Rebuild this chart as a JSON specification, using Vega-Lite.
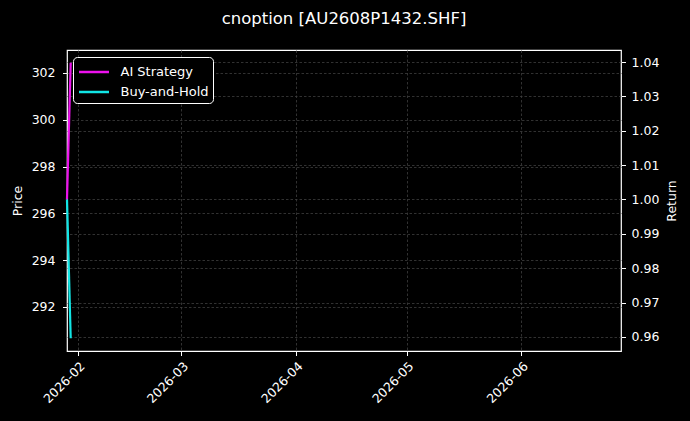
{
  "$schema": "https://vega.github.io/schema/vega-lite/v6.json",
  "autosize": "none",
  "width": 554,
  "height": 301,
  "padding": {"left": 67, "top": 50, "right": 69, "bottom": 70},
  "background": "#000000",
  "title": {
    "text": "cnoption [AU2608P1432.SHF]",
    "color": "#ffffff",
    "font": "DejaVu Sans",
    "fontSize": 16.5,
    "fontWeight": "normal",
    "anchor": "middle",
    "offset": 23
  },
  "config": {
    "view": {"stroke": "#ffffff", "strokeWidth": 1.2},
    "font": "DejaVu Sans",
    "axis": {
      "domain": false,
      "labelColor": "#ffffff",
      "titleColor": "#ffffff",
      "tickColor": "#ffffff",
      "labelFont": "DejaVu Sans",
      "titleFont": "DejaVu Sans",
      "labelFontSize": 12.5,
      "titleFontSize": 12.5,
      "titleFontWeight": "normal",
      "tickSize": 4.5,
      "labelPadding": 4,
      "gridColor": "#3e3e3e",
      "gridDash": [2.5, 2],
      "gridWidth": 0.8
    }
  },
  "datasets": {
    "price": [
      {"date": "2026-01-29T00:00:00", "price": 302.6},
      {"date": "2026-01-30T00:00:00", "price": 290.5}
    ],
    "returns": [
      {"date": "2026-01-29T00:00:00", "series": "AI Strategy", "value": 1.0},
      {"date": "2026-01-30T00:00:00", "series": "AI Strategy", "value": 1.0398},
      {"date": "2026-01-29T00:00:00", "series": "Buy-and-Hold", "value": 1.0},
      {"date": "2026-01-30T00:00:00", "series": "Buy-and-Hold", "value": 0.9596}
    ]
  },
  "encoding": {
    "x": {
      "field": "date",
      "type": "temporal",
      "scale": {
        "domain": [
          {"year": 2026, "month": 1, "date": 29},
          {"year": 2026, "month": 6, "date": 28}
        ]
      },
      "axis": {
        "title": null,
        "format": "%Y-%m",
        "tickCount": {"interval": "month", "step": 1},
        "labelAngle": -45,
        "labelAlign": "right",
        "labelBaseline": "top",
        "grid": true
      }
    }
  },
  "layer": [
    {
      "data": {"name": "price"},
      "mark": {"type": "line", "strokeWidth": 2, "opacity": 0},
      "encoding": {
        "y": {
          "field": "price",
          "type": "quantitative",
          "scale": {"domain": [290.12, 302.98], "nice": false, "zero": false},
          "axis": {
            "orient": "left",
            "title": "Price",
            "values": [292, 294, 296, 298, 300, 302],
            "labelPadding": 7.5,
            "titlePadding": 7,
            "grid": true
          }
        }
      }
    },
    {
      "data": {"name": "returns"},
      "mark": {"type": "line", "strokeWidth": 2.2},
      "encoding": {
        "y": {
          "field": "value",
          "type": "quantitative",
          "scale": {"domain": [0.9559, 1.0435], "nice": false, "zero": false},
          "axis": {
            "orient": "right",
            "title": "Return",
            "titleAngle": 270,
            "titleBaseline": "top",
            "format": ".2f",
            "values": [0.96, 0.97, 0.98, 0.99, 1.0, 1.01, 1.02, 1.03, 1.04],
            "labelPadding": 5.5,
            "titlePadding": 7,
            "grid": true
          }
        },
        "color": {
          "field": "series",
          "type": "nominal",
          "scale": {
            "domain": ["AI Strategy", "Buy-and-Hold"],
            "range": ["#ee11ee", "#11e6e6"]
          },
          "legend": {
            "title": null,
            "orient": "none",
            "legendX": 6,
            "legendY": 7,
            "symbolType": "M-0.9,0H2.1",
            "symbolSize": 400,
            "symbolStrokeWidth": 2.5,
            "labelColor": "#ffffff",
            "labelFont": "DejaVu Sans",
            "labelFontSize": 13,
            "labelOffset": 21,
            "rowPadding": 1,
            "padding": 3.5,
            "fillColor": "#000000",
            "strokeColor": "#ffffff",
            "cornerRadius": 4
          }
        }
      }
    }
  ],
  "resolve": {"scale": {"y": "independent"}}
}
